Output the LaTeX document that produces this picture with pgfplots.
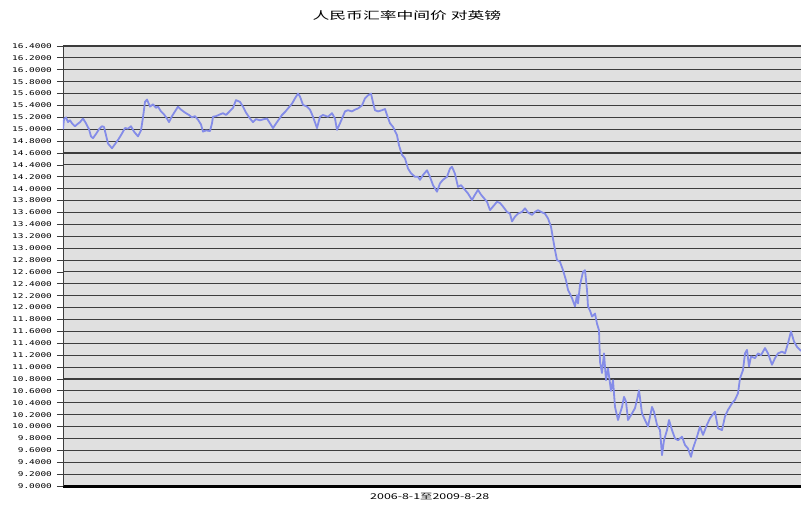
\documentclass[border=0pt]{standalone}
\usepackage{fontspec}
\usepackage{graphicx}
\usepackage{pgfplots}
\pgfplotsset{compat=1.18}
\setmainfont{Liberation Sans}
\newfontfamily\cjk{Noto Sans CJK SC}
\newfontfamily\tickfont{DejaVu Sans Mono}
\definecolor{bggray}{RGB}{224,224,224}
\definecolor{gridgray}{RGB}{60,60,60}
\definecolor{lineblue}{RGB}{132,140,232}

\begin{document}
\begin{tikzpicture}
\begin{axis}[
  at={(0,0)}, anchor=south west,
  scale only axis, width=738pt, height=440pt,
  xmin=63, xmax=801, ymin=9, ymax=16.4,
  axis x line*=bottom, axis y line*=left,
  axis line style={-},
  x axis line style={line width=3pt, black},
  y axis line style={line width=0.8pt, gridgray},
  axis background/.style={fill=bggray},
  xtick=\empty,
  ytick distance=0.2,
  tick align=outside, major tick length=6pt,
  ytick style={gridgray, line width=0.8pt},
  ymajorgrids, major grid style={gridgray, line width=1.1pt},
  /pgf/number format/assume math mode=true,
  yticklabel style={font=\tickfont\fontsize{6.5}{7}\selectfont, xscale=1.45, /pgf/number format/.cd, fixed, fixed zerofill, precision=4},
  xlabel={\cjk 2006-8-1至2009-8-28},
  xlabel style={font=\fontsize{8}{9}\selectfont, xscale=1.55, at={(axis description cs:0.497,0)}, anchor=center, yshift=-11pt},
  title={\cjk 人民币汇率中间价 对英镑},
  title style={font=\fontsize{10.5}{12}\selectfont, xscale=1.6, at={(axis description cs:0.466,1)}, anchor=center, yshift=24pt},
  clip=true,
]
\addplot[lineblue, line width=1.8pt, line join=round, mark=none] coordinates {
(63,15.00) (64,15.17) (66,15.20) (68,15.12) (70,15.15) (72,15.10) (75,15.05) (77,15.08)
(80,15.12) (83,15.18) (86,15.10) (89,15.00) (91,14.88) (93,14.85) (96,14.92) (99,15.00)
(102,15.05) (104,15.04) (106,14.90) (108,14.76) (110,14.72) (112,14.68) (115,14.75) (118,14.82)
(121,14.90) (125,15.02) (128,15.01) (131,15.05) (134,14.96) (138,14.88) (141,14.98) (143,15.20)
(145,15.46) (147,15.50) (150,15.38) (153,15.42) (156,15.36) (158,15.38) (161,15.30) (164,15.25)
(167,15.18) (169,15.12) (172,15.22) (175,15.30) (178,15.38) (181,15.33) (185,15.28) (189,15.24)
(192,15.20) (195,15.22) (198,15.16) (201,15.08) (203,14.96) (206,14.98) (210,14.97) (212,15.10)
(213,15.21) (216,15.22) (220,15.25) (223,15.27) (226,15.24) (229,15.29) (233,15.36) (236,15.49)
(240,15.46) (243,15.38) (246,15.28) (250,15.18) (253,15.12) (256,15.17) (260,15.15) (264,15.17)
(267,15.18) (270,15.10) (273,15.02) (277,15.12) (282,15.24) (285,15.29) (288,15.35) (292,15.43)
(295,15.52) (298,15.60) (300,15.55) (303,15.41) (307,15.38) (310,15.33) (313,15.21) (317,15.02)
(320,15.21) (323,15.24) (328,15.21) (332,15.27) (335,15.18) (337,14.99) (340,15.10) (343,15.22)
(345,15.30) (348,15.32) (352,15.30) (355,15.33) (358,15.35) (362,15.40) (365,15.52) (368,15.57)
(371,15.60) (373,15.45) (375,15.32) (378,15.30) (382,15.32) (385,15.34) (387,15.24) (390,15.10)
(393,15.04) (397,14.90) (399,14.73) (402,14.57) (405,14.51) (408,14.34) (411,14.26) (415,14.20)
(418,14.20) (420,14.15) (423,14.23) (427,14.31) (430,14.20) (433,14.06) (437,13.95) (440,14.09)
(443,14.15) (447,14.20) (450,14.34) (452,14.37) (455,14.25) (458,14.03) (461,14.06) (465,13.98)
(468,13.92) (472,13.81) (475,13.90) (478,13.98) (481,13.90) (484,13.84) (487,13.78) (490,13.64)
(494,13.72) (497,13.78) (500,13.76) (503,13.70) (507,13.61) (510,13.58) (512,13.45) (515,13.53)
(518,13.58) (522,13.61) (525,13.67) (528,13.60) (532,13.56) (535,13.61) (538,13.64) (541,13.61)
(545,13.58) (548,13.50) (551,13.36) (553,13.16) (555,12.97) (557,12.80) (560,12.77) (563,12.63)
(566,12.46) (568,12.30) (572,12.16) (575,12.02) (577,12.21) (578,12.07) (580,12.38) (583,12.60)
(585,12.63) (587,12.30) (588,12.02) (590,11.95) (592,11.85) (595,11.90) (597,11.73) (599,11.62)
(600,11.09) (602,10.90) (604,11.23) (606,10.78) (608,10.98) (611,10.60) (613,10.78) (615,10.33)
(618,10.11) (622,10.33) (624,10.50) (626,10.42) (628,10.11) (632,10.22) (635,10.31) (637,10.45)
(639,10.61) (642,10.22) (645,10.11) (648,10.00) (652,10.33) (654,10.25) (657,10.03) (660,9.94)
(662,9.52) (664,9.77) (667,9.94) (669,10.11) (672,9.94) (675,9.80) (678,9.77) (682,9.83)
(685,9.69) (688,9.63) (691,9.49) (693,9.63) (697,9.83) (700,10.00) (703,9.86) (707,10.03)
(710,10.14) (715,10.25) (718,9.97) (722,9.94) (725,10.17) (728,10.28) (732,10.39) (735,10.45)
(738,10.56) (740,10.81) (743,10.95) (745,11.23) (747,11.29) (749,11.01) (751,11.18) (755,11.15)
(758,11.23) (761,11.20) (765,11.32) (768,11.23) (772,11.04) (775,11.15) (778,11.23) (782,11.26)
(785,11.23) (788,11.40) (791,11.60) (794,11.43) (797,11.34) (800,11.29) (801,11.27)
};
\end{axis}
\pgfresetboundingbox
\path (-63pt,-21pt) rectangle (738pt,486pt);
\end{tikzpicture}
\end{document}
